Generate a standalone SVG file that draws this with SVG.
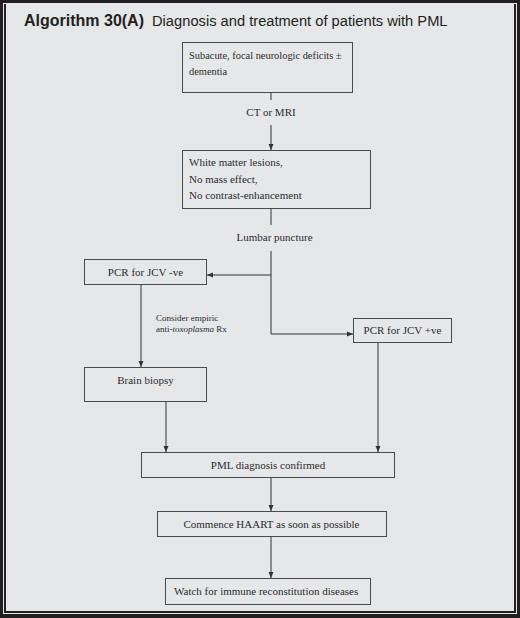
<svg xmlns="http://www.w3.org/2000/svg" width="520" height="618" viewBox="0 0 520 618">
<style>
.box{fill:none;stroke:#4a4a4a;stroke-width:1}
.t{font-family:"Liberation Serif","Times New Roman",serif;font-size:11px;fill:#2b2b2b}
.s{font-size:10.4px}
.x{font-size:9px}
.c{text-anchor:middle}
.ln{fill:none;stroke:#333;stroke-width:1}
</style>
<defs>
<marker id="ah" viewBox="0 0 6 6" refX="6" refY="3" markerWidth="6" markerHeight="6" markerUnits="userSpaceOnUse" orient="auto">
<path d="M0,0.5 L6,3 L0,5.5 Z" fill="#333"/>
</marker>
</defs>
<rect x="0" y="0" width="520" height="618" fill="#231f20"/>
<rect x="3.5" y="3.5" width="513" height="610" fill="none" stroke="#e6e7e8" stroke-width="1"/>
<rect x="6" y="4" width="508" height="607" fill="#e6e7e8"/>
<text x="24" y="26" font-family="Liberation Sans,Arial,sans-serif" font-size="16" font-weight="bold" fill="#231f20">Algorithm 30(A)</text>
<text x="152" y="26" font-family="Liberation Sans,Arial,sans-serif" font-size="14.7" fill="#231f20">Diagnosis and treatment of patients with PML</text>
<g id="connectors">
<line class="ln" x1="271" y1="92" x2="271" y2="100"/>
<line class="ln" x1="271" y1="125" x2="271" y2="150" marker-end="url(#ah)"/>
<line class="ln" x1="271" y1="209" x2="271" y2="225"/>
<path class="ln" d="M271,251 V334 H353" marker-end="url(#ah)"/>
<line class="ln" x1="271" y1="275" x2="207" y2="275" marker-end="url(#ah)"/>
<line class="ln" x1="141" y1="284" x2="141" y2="367" marker-end="url(#ah)"/>
<line class="ln" x1="166" y1="401" x2="166" y2="452" marker-end="url(#ah)"/>
<line class="ln" x1="378" y1="342" x2="378" y2="452" marker-end="url(#ah)"/>
<line class="ln" x1="271" y1="478" x2="271" y2="511" marker-end="url(#ah)"/>
<line class="ln" x1="271" y1="537" x2="271" y2="578" marker-end="url(#ah)"/>
<text class="t c" x="271" y="116">CT or MRI</text>
<text class="t c" x="274.5" y="241">Lumbar puncture</text>
<text class="t x" x="156" y="321">Consider empiric</text>
<text class="t x" x="156" y="332">anti-<tspan font-style="italic">toxoplasma</tspan> Rx</text>
</g>
<g id="n1">
<rect class="box" x="182.5" y="42.5" width="170" height="50"/>
<text class="t s" x="189" y="59">Subacute, focal neurologic deficits ±</text>
<text class="t s" x="189" y="75">dementia</text>
</g>
<g id="n2">
<rect class="box" x="182.5" y="150.5" width="188" height="58"/>
<text class="t" x="189" y="166">White matter lesions,</text>
<text class="t" x="189" y="182.5">No mass effect,</text>
<text class="t" x="189" y="199">No contrast-enhancement</text>
</g>
<g id="n3">
<rect class="box" x="84.5" y="259.5" width="122" height="25"/>
<text class="t c" x="145.5" y="275.5">PCR for JCV -ve</text>
</g>
<g id="n4">
<rect class="box" x="353.5" y="318.5" width="98" height="24"/>
<text class="t c" x="402.5" y="334">PCR for JCV +ve</text>
</g>
<g id="n5">
<rect class="box" x="84.5" y="367.5" width="122" height="34"/>
<text class="t c" x="145.5" y="384">Brain biopsy</text>
</g>
<g id="n6">
<rect class="box" x="141.5" y="452.5" width="253" height="25"/>
<text class="t c" x="268" y="468.5">PML diagnosis confirmed</text>
</g>
<g id="n7">
<rect class="box" x="157.5" y="511.5" width="229" height="25"/>
<text class="t c" x="271.5" y="528">Commence HAART as soon as possible</text>
</g>
<g id="n8">
<rect class="box" x="165.5" y="578.5" width="205" height="26"/>
<text class="t" x="174" y="595">Watch for immune reconstitution diseases</text>
</g>
</svg>
